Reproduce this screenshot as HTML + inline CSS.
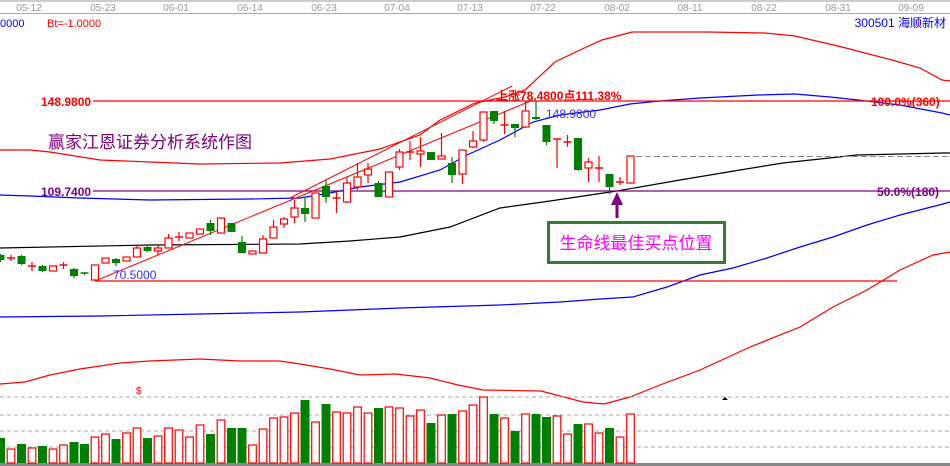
<!DOCTYPE html>
<html><head><meta charset="utf-8"><style>
html,body{margin:0;padding:0;background:#fff;width:950px;height:466px;overflow:hidden}
svg{display:block;font-family:"Liberation Sans","Noto Sans CJK SC",sans-serif}
</style></head><body>
<svg id="s" width="950" height="466" viewBox="0 0 950 466" xmlns="http://www.w3.org/2000/svg">
<rect width="950" height="466" fill="#fff"/>
<line x1="0" y1="1" x2="950" y2="1" stroke="#999"/>
<line x1="0" y1="13.5" x2="950" y2="13.5" stroke="#aaa"/>
<g font-size="10" fill="#999" text-anchor="middle">
<text x="29" y="11">05-12</text><text x="103" y="11">05-23</text><text x="176" y="11">06-01</text><text x="250" y="11">06-14</text><text x="324" y="11">06-23</text><text x="397" y="11">07-04</text><text x="470" y="11">07-13</text><text x="543" y="11">07-22</text><text x="617" y="11">08-02</text><text x="690" y="11">08-11</text><text x="764" y="11">08-22</text><text x="838" y="11">08-31</text><text x="911" y="11">09-09</text>
</g>
<text x="0" y="27" font-size="11" fill="#00f">0000</text>
<text x="47" y="27" font-size="11" fill="#f00">Bt=-1.0000</text>
<text x="946" y="27" font-size="12" fill="#00f" text-anchor="end">300501 海顺新材</text>
<g fill="none" stroke-width="1.2">
<polyline stroke="#f00" points="0,150 30,150 50,152 100,160 150,162 200,164 280,163 330,159 380,149 420,135 440,120 475,103 505,97 525,90 555,62 580,50 602,40 632,32 660,32 708,32 765,33 795,36 842,47 892,60 920,68 942,80 950,81"/>
<polyline stroke="#00f" points="0,195 30,196 80,198 150,200 250,199 300,198 330,193 360,187 400,182 440,170 467,155 500,140 533,122 560,115 600,110 630,104 660,101 700,98 758,95 795,94 830,97 858,100 900,105 942,113 950,115"/>
<polyline stroke="#000" points="0,248 150,245 300,244 350,241 400,237 450,227 500,208 550,201 617,191 680,180 740,170 783,163 857,155 943,153 950,153"/>
<polyline stroke="#00f" points="0,317 100,316 200,314 300,312 400,308 500,305 560,302 600,299 633,297 667,287 700,275 733,268 767,258 800,247 833,237 867,225 900,215 943,204 950,202"/>
<polyline stroke="#f00" points="0,384 25,382 50,375 80,369 120,363 150,361 200,359 240,361 280,361 300,364 330,369 360,375 396,374 430,378 458,385 483,390 541,391 583,402 604,404 630,397 660,385 700,370 750,347 800,327 833,307 867,290 900,270 933,255 950,252"/>
</g>
<line x1="93" y1="101" x2="950" y2="101" stroke="#f00" stroke-width="1.2"/>
<line x1="93" y1="191" x2="950" y2="191" stroke="#800080" stroke-width="1.2"/>
<line x1="95" y1="281" x2="897" y2="281" stroke="#f00" stroke-width="1.2"/>
<line x1="95" y1="281" x2="533" y2="100" stroke="#f00" stroke-width="1"/>
<line x1="290" y1="198" x2="512" y2="86" stroke="#f00" stroke-width="1"/>
<line x1="636" y1="156.5" x2="950" y2="156.5" stroke="#888" stroke-dasharray="6,3"/>
<g stroke="#aaa" stroke-dasharray="4,3"><line x1="0" y1="397" x2="950" y2="397"/><line x1="0" y1="415" x2="950" y2="415"/><line x1="0" y1="431" x2="950" y2="431"/><line x1="0" y1="447" x2="950" y2="447"/></g>
<line x1="0" y1="464.5" x2="950" y2="464.5" stroke="#888" stroke-width="3"/>
<g id="c"></g>
<g font-size="12" font-weight="bold">
<text x="41" y="106" fill="#f00">148.9800</text>
<text x="41" y="196" fill="#800080">109.7400</text>
<text x="496" y="100" fill="#f00">上涨78.4800点111.38%</text>
<text x="871" y="106" fill="#f00">100.0%(360)</text>
<text x="877" y="196" fill="#800080">50.0%(180)</text>
</g>
<text x="113" y="279" font-size="12" fill="#33f">70.5000</text>
<text x="546" y="118" font-size="12" fill="#33f">148.9800</text>
<text x="48" y="148" font-size="17" fill="#800080">赢家江恩证券分析系统作图</text>
<text x="136" y="394" font-size="10" fill="#f00">$</text>
<polygon points="722,400 728,400 725,397" fill="#000"/>
<rect x="548.5" y="222.5" width="176" height="40" fill="#fff" stroke="#2e7d32" stroke-width="3"/>
<text x="636" y="249" font-size="17" fill="#f0f" text-anchor="middle">生命线最佳买点位置</text>
<line x1="617" y1="218" x2="617" y2="202" stroke="#800080" stroke-width="3"/>
<polygon points="611,205 623,205 617,192" fill="#800080"/>
</svg>
<script>
var C=[
['g',255,260,254,262],['r',258,258,255,261],['g',256,264,255,265],['r',266,266,262,271],['g',266,271,265,272],['r',266,271,266,271],['r',265,265,262,269],['g',269,276,268,278],['g',273,274,272,275],['r',265,280,265,281],
['r',258,263,258,263],['g',259,263,258,266],['r',257,261,257,261],['r',248,257,246,257],['g',247,251,246,252],['r',248,251,244,255],['r',238,248,234,248],['r',237,237,232,241],['r',233,238,233,238],['r',229,234,229,234],
['g',223,231,220,235],['r',218,233,218,233],['g',223,232,223,232],['g',242,253,236,253],['r',251,254,251,254],['r',239,253,235,253],['r',227,238,220,238],['r',219,224,217,228],['r',208,217,200,223],['g',208,214,198,222],
['r',193,218,193,218],['g',186,197,180,203],['r',198,198,192,213],['r',183,202,177,203],['r',177,187,163,190],['r',169,175,163,183],['g',183,197,181,197],['r',172,197,172,197],['r',152,167,149,170],['r',152,152,141,160],
['r',151,154,137,167],['g',152,160,152,160],['r',156,159,133,159],['g',163,175,157,183],['r',150,174,150,184],['r',141,147,131,148],['r',112,140,112,142],['g',111,121,111,124],['r',125,125,111,134],['g',124,128,124,137],
['r',111,127,101,128],['g',117,119,101,120],['g',125,142,125,145],['r',139,139,139,168],['r',142,142,135,147],['g',138,170,138,171],['r',162,168,158,182],['r',168,168,156,182],['g',174,187,174,194],['r',182,182,177,185],['r',156,183,156,183]];
var V=[438,449,444,448,446,449,445,442,444,437,434,439,433,428,438,436,428,430,437,425,434,420,428,428,445,429,418,417,413,400,422,404,412,413,407,413,408,407,408,416,410,423,415,414,411,405,397,414,418,431,414,414,417,416,434,424,424,433,428,437,414];
var VC="grgrgrrggrrgrrgrrrrrgrggrrrrgrgrrrrgrrrrgrgrrrrgrgrggrrgrrrgrr";
var h='';
for(var i=0;i<C.length;i++){var c=C[i],x=0.5+10.5*i,col=c[0]=='g'?'#008000':'#f00';
h+='<line x1="'+x+'" y1="'+c[3]+'" x2="'+x+'" y2="'+c[4]+'" stroke="'+col+'" stroke-width="1.2"/>';
var bh=c[2]-c[1];
if(bh<1.5){h+='<line x1="'+(x-4)+'" y1="'+c[1]+'" x2="'+(x+4)+'" y2="'+c[1]+'" stroke="'+col+'" stroke-width="1.5"/>';}
else if(c[0]=='g'){h+='<rect x="'+(x-4)+'" y="'+c[1]+'" width="8" height="'+bh+'" fill="#008000"/>';}
else{h+='<rect x="'+(x-3.5)+'" y="'+c[1]+'" width="7" height="'+bh+'" fill="#fff" stroke="#f00" stroke-width="1.2"/>';}
}
for(var i=0;i<V.length;i++){var x=0.5+10.5*i,t=V[i],g=(C[i]&&C[i][0]=='g');
if(g)h+='<rect x="'+(x-4.5)+'" y="'+t+'" width="9" height="'+(463-t)+'" fill="#008000"/>';
else h+='<rect x="'+(x-3.8)+'" y="'+t+'" width="7.6" height="'+(463-t)+'" fill="#fff" stroke="#f00" stroke-width="1.2"/>';}
document.getElementById('c').innerHTML=h;
</script>
</body></html>
